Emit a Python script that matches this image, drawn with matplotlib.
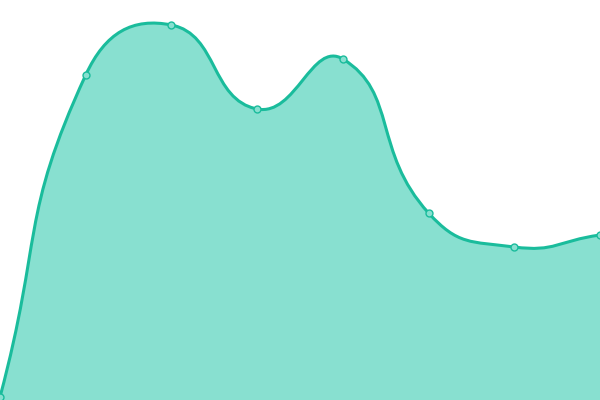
import numpy as np
import matplotlib.pyplot as plt
from matplotlib.path import Path
from matplotlib.patches import PathPatch

# data (pixel-ish units, 0 at the bottom)
xs = [0, 1, 2, 3, 4, 5, 6, 7]
values = [3, 325, 375, 291, 341, 187, 153, 165]

line_color = '#1abc9c'
fill_color = '#88e0d0'

# smooth bezier like the echarts "smooth: true" line
def smooth_path(x, y, sx, smooth=0.5):
    px = np.array(x, float) * sx
    py = np.array(y, float)
    n = len(px)
    verts = [(px[0], py[0])]
    codes = [Path.MOVETO]
    cps_next = []
    cps_prev = []
    for i in range(n):
        prev = max(i - 1, 0)
        nxt = min(i + 1, n - 1)
        vx = px[nxt] - px[prev]
        vy = py[nxt] - py[prev]
        l0 = np.hypot(px[i] - px[prev], py[i] - py[prev])
        l1 = np.hypot(px[nxt] - px[i], py[nxt] - py[i])
        r = l1 / (l0 + l1) if (l0 + l1) > 0 else 0.5
        cps_next.append((px[i] + vx * smooth * r, py[i] + vy * smooth * r))
        cps_prev.append((px[i] - vx * smooth * (1 - r), py[i] - vy * smooth * (1 - r)))
    for i in range(1, n):
        verts += [cps_next[i - 1], cps_prev[i], (px[i], py[i])]
        codes += [Path.CURVE4] * 3
    verts = [(vx_ / sx, vy_) for vx_, vy_ in verts]
    return verts, codes

sx = 600 / 7.0
verts, codes = smooth_path(xs, values, sx)

fig = plt.figure(figsize=(6, 4), dpi=100)
ax = fig.add_axes([0, 0, 1, 1])
ax.set_xlim(0, 7)
ax.set_ylim(0, 400)
ax.axis('off')

fill_verts = verts + [(xs[-1], 0), (xs[0], 0), verts[0]]
fill_codes = codes + [Path.LINETO, Path.LINETO, Path.CLOSEPOLY]
ax.add_patch(PathPatch(Path(fill_verts, fill_codes), facecolor=fill_color,
                       edgecolor='none'))
ax.add_patch(PathPatch(Path(verts, codes), facecolor='none',
                       edgecolor=line_color, lw=2.2))
ax.plot(xs, values, 'o', ms=5, mfc=fill_color, mec=line_color, mew=1)

fig.savefig('out.png', dpi=100)
